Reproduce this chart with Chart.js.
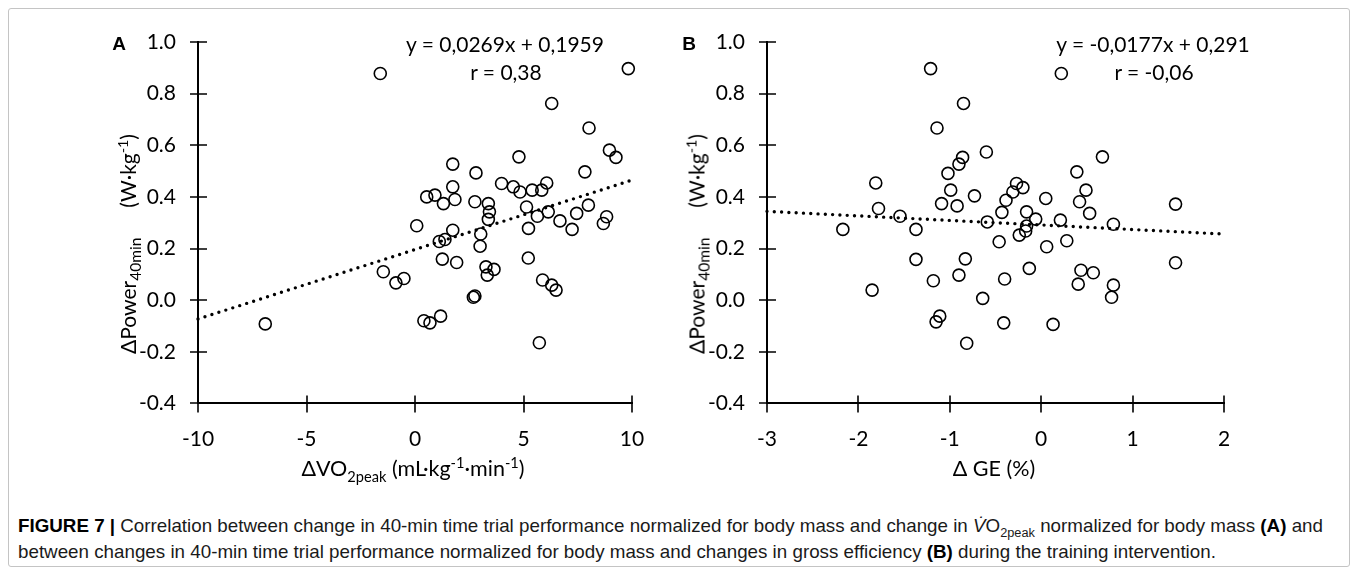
<!DOCTYPE html>
<html>
<head>
<meta charset="utf-8">
<script src="https://cdn.jsdelivr.net/npm/chart.js@4.4.0/dist/chart.umd.min.js"></script>
<style>
  body { margin: 0; background: #fff; width: 1357px; height: 571px; overflow: hidden; position: relative; font-family: Lato, 'Open Sans', sans-serif; }
  .frame { position: absolute; left: 8px; top: 8px; width: 1340px; height: 557px; border: 1px solid #c4c4c4; border-radius: 3px; }
  canvas { position: absolute; top: 0; }
  #chartA { left: 0; }
  #chartB { left: 680px; }
  .txt { position: absolute; white-space: nowrap; color: #000; font-size: 21px; line-height: 1; transform: translate(-50%, -50%); }
  .panel { font-family: 'Liberation Sans', Arial, sans-serif; font-weight: bold; font-size: 19px; }
  .ytitle { transform: translate(-50%, -50%) rotate(-90deg); }
  .ytitle sub { font-size: 0.74em; }
  .gap { display: inline-block; width: 30px; }
  sub, sup { font-size: 0.68em; line-height: 0; }
  .caption { position: absolute; left: 18px; top: 513px; white-space: nowrap; transform-origin: 0 0; font-family: 'Liberation Sans', Arial, sans-serif; font-size: 19px; line-height: 26px; color: #1a1a1a; }
  .caption b { color: #000; }
</style>
</head>
<body>
<div class="frame"></div>
<canvas id="chartA" width="680" height="480"></canvas>
<canvas id="chartB" width="677" height="480"></canvas>

<div class="txt panel" style="left:119px; top:43px;">A</div>
<div class="txt panel" style="left:689px; top:43px;">B</div>

<div class="txt" style="left:505px; top:43px;">y = 0,0269x + 0,1959</div>
<div class="txt" style="left:506px; top:71px;">r = 0,38</div>
<div class="txt" style="left:1153px; top:43px;">y = -0,0177x + 0,291</div>
<div class="txt" style="left:1154px; top:71px;">r = -0,06</div>

<div class="txt ytitle" style="left:127px; top:244px;">ΔPower<sub>40min</sub><span class="gap"></span>(W·kg<sup>-1</sup>)</div>
<div class="txt ytitle" style="left:696px; top:244px;">ΔPower<sub>40min</sub><span class="gap"></span>(W·kg<sup>-1</sup>)</div>
<div class="txt" style="left:413px; top:469px; font-size:21.5px;">ΔVO<sub>2peak</sub> (mL·kg<sup>-1</sup>·min<sup>-1</sup>)</div>
<div class="txt" style="left:994px; top:469px; font-size:21.5px;">Δ GE (%)</div>

<div class="caption" id="caption"><span id="capLine1"><b>FIGURE 7 |</b> Correlation between change in 40-min time trial performance normalized for body mass and change in <i>V̇</i>O<sub>2peak</sub> normalized for body mass <b>(A)</b> and</span><br><span>between changes in 40-min time trial performance normalized for body mass and changes in gross efficiency <b>(B)</b> during the training intervention.</span></div>

<script>
// valores
const yTicks = [1.0, 0.8, 0.6, 0.4, 0.2, 0.0, -0.2, -0.4];
const xTicksA = [-10, -5, 0, 5, 10];
const xTicksB = [-3, -2, -1, 0, 1, 2];

// painel A: ΔVO2peak vs ΔPower
const vo2Change = [-1.60, 9.83, 6.30, 8.02, 8.96, 9.26, 4.79, 1.74, 2.81, 7.83,
  3.99, 4.53, 4.84, 5.40, 5.84, 6.07, 1.74, 0.54, 0.92, 1.31,
  1.84, 2.76, 3.38, 5.14, 7.99, 7.45, 6.14, 8.83, 3.43, 3.38,
  5.64, 6.68, 8.68, 7.24, 5.23, 0.08, 1.74, 1.38, 1.12, 3.03,
  3.00, 1.26, 1.92, 5.22, -0.51, 3.27, 3.64, 3.33, 5.88, 6.30,
  6.50, 2.69, 2.76, 0.41, 0.69, 1.18, 5.73, -1.46, -0.88, -6.90];
const powerA = [0.878, 0.897, 0.762, 0.667, 0.581, 0.553, 0.555, 0.527, 0.493, 0.497,
  0.452, 0.439, 0.419, 0.426, 0.426, 0.454, 0.439, 0.400, 0.407, 0.374,
  0.390, 0.381, 0.374, 0.361, 0.368, 0.336, 0.342, 0.323, 0.342, 0.313,
  0.325, 0.307, 0.297, 0.274, 0.278, 0.288, 0.271, 0.235, 0.227, 0.256,
  0.209, 0.159, 0.146, 0.163, 0.084, 0.129, 0.119, 0.097, 0.078, 0.058,
  0.039, 0.011, 0.016, -0.080, -0.088, -0.062, -0.165, 0.110, 0.067, -0.092];

// painel B: ΔGE vs ΔPower
const geChange = [-1.21, 0.22, -0.85, -1.14, -0.60, 0.67, -0.86, -0.90, -1.02, 0.39,
  -1.81, -0.27, -0.20, -0.31, -0.99, 0.49, -0.73, -0.385, 0.05, 0.42,
  1.47, -1.09, -0.92, -1.78, -0.43, -0.16, 0.53, -1.545, -0.06, 0.21,
  -0.59, 0.79, -0.16, -0.17, -0.24, -2.17, -1.37, -0.46, 0.28, 0.06,
  -1.37, -0.83, 1.47, -0.13, 0.435, 0.57, -0.90, -0.40, -1.18, 0.405,
  0.79, -1.85, -0.64, 0.77, -1.11, -1.15, -0.41, 0.13, -0.815];
const powerB = [0.897, 0.878, 0.762, 0.667, 0.574, 0.555, 0.553, 0.527, 0.491, 0.497,
  0.454, 0.452, 0.436, 0.419, 0.426, 0.426, 0.404, 0.387, 0.394, 0.381,
  0.372, 0.374, 0.365, 0.355, 0.340, 0.342, 0.336, 0.325, 0.314, 0.310,
  0.303, 0.294, 0.287, 0.268, 0.252, 0.274, 0.274, 0.226, 0.230, 0.207,
  0.158, 0.160, 0.145, 0.123, 0.116, 0.106, 0.097, 0.082, 0.075, 0.062,
  0.058, 0.039, 0.007, 0.011, -0.062, -0.084, -0.088, -0.094, -0.167];

// linhas de tendência (extremos do eixo)
const trendAx = [-10, 10];
const trendAy = [-0.073, 0.465];
const trendBx = [-3, 2];
const trendBy = [0.344, 0.256];

const toPoints = (xs, ys) => xs.map((x, i) => ({ x: x, y: ys[i] }));

// marcas dos eixos que cruzam a linha do eixo
const crossTicks = {
  id: 'crossTicks',
  afterDraw(chart) {
    const { ctx, scales: { x, y } } = chart;
    ctx.save();
    ctx.strokeStyle = '#000';
    ctx.lineWidth = 1.6;
    ctx.beginPath();
    x.ticks.forEach(t => {
      const px = Math.round(x.getPixelForValue(t.value));
      ctx.moveTo(px, x.top - 8); ctx.lineTo(px, x.top + 9);
    });
    y.ticks.forEach(t => {
      const py = Math.round(y.getPixelForValue(t.value));
      ctx.moveTo(y.right - 8, py); ctx.lineTo(y.right + 9, py);
    });
    ctx.stroke();
    ctx.restore();
  }
};

const makeChart = (canvasId, pts, trend, xTicks, xMin, xMax, yWidth, padRight) => {
  const ctx = document.getElementById(canvasId).getContext('2d');
  return new Chart(ctx, {
    type: 'scatter',
    data: {
      datasets: [
        { type: 'line', data: trend, borderColor: '#000', borderWidth: 3.4, borderDash: [0, 7.3], borderCapStyle: 'round', pointRadius: 0, fill: false, clip: false },
        { data: pts, pointRadius: 6, pointBorderWidth: 1.6, borderColor: '#000', backgroundColor: 'rgba(0,0,0,0)', pointHoverRadius: 6, clip: false }
      ]
    },
    options: {
      responsive: false, animation: false, events: [],
      layout: { padding: { left: 0, right: padRight, top: 42, bottom: 16.6 } },
      plugins: { legend: { display: false }, tooltip: { enabled: false } },
      scales: {
        x: {
          type: 'linear', min: xMin, max: xMax,
          afterBuildTicks: (s) => { s.ticks = xTicks.map(v => ({ value: v })); },
          afterFit: (s) => { s.height = 60; },
          grid: { display: false, drawTicks: false },
          border: { display: true, color: '#000', width: 2 },
          ticks: { color: '#000', padding: 23, font: { family: 'Lato', size: 21 }, callback: (v) => String(v) }
        },
        y: {
          type: 'linear', min: -0.4, max: 1.0,
          afterBuildTicks: (s) => { s.ticks = yTicks.map(v => ({ value: v })); },
          afterFit: (s) => { s.width = yWidth; },
          grid: { display: false, drawTicks: false },
          border: { display: true, color: '#000', width: 2 },
          ticks: { color: '#000', padding: 22, font: { family: 'Lato', size: 21 }, callback: (v) => v.toFixed(1) }
        }
      }
    },
    plugins: [crossTicks]
  });
};

makeChart('chartA', toPoints(vo2Change, powerA), toPoints(trendAx, trendAy), xTicksA, -10, 10, 198, 48);
makeChart('chartB', toPoints(geChange, powerB), toPoints(trendBx, trendBy), xTicksB, -3, 2, 87, 133);

// legenda da figura: comprimir na horizontal para a primeira linha ocupar a mesma largura
const capLine1 = document.getElementById('capLine1');
const capScale = 1305 / capLine1.getBoundingClientRect().width;
document.getElementById('caption').style.transform = `scaleX(${capScale})`;
</script>
</body>
</html>
